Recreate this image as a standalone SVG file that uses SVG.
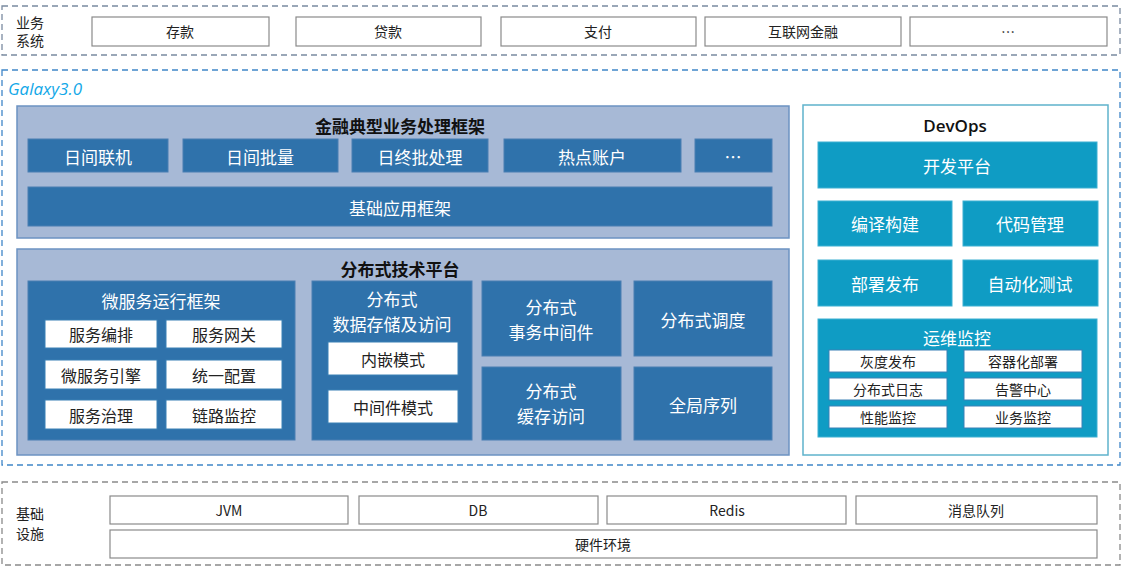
<svg xmlns="http://www.w3.org/2000/svg" width="1126" height="572" viewBox="0 0 1126 572">
<style>
text{font-family:"Microsoft YaHei","Noto Sans CJK SC",sans-serif;text-anchor:middle;dominant-baseline:central}
.dash{fill:none;stroke-width:1.3;stroke-dasharray:6 4}
.wb{fill:#fff;stroke:#8a8a8a;stroke-width:1.2}
.wt{font-size:14px;fill:#222}
.panel{fill:#a7b9d6;stroke:#6c93c2;stroke-width:1.5}
.db{fill:#2f72ab;stroke:#4b7fb2;stroke-width:1}
.dt{font-size:17px;fill:#fff}
.ttl{font-size:17px;font-weight:bold;fill:#111}
.tb{fill:#0f9cc4;stroke:#3db0d2;stroke-width:1}
.iw{fill:#fff;stroke:#3a80b5;stroke-width:1}
.it{font-size:16px;fill:#222}
.st{font-size:14px;fill:#222}
</style>
<g id="biz">
<rect class="dash" x="2" y="6" width="1118" height="49" stroke="#7a8aa0"/>
<text x="30" y="22" class="wt">业务</text><text x="30" y="40" class="wt">系统</text>
<rect class="wb" x="92" y="17" width="177" height="29"/><text class="wt" x="180" y="31">存款</text>
<rect class="wb" x="296" y="17" width="185" height="29"/><text class="wt" x="388" y="31">贷款</text>
<rect class="wb" x="501" y="17" width="195" height="29"/><text class="wt" x="598" y="31">支付</text>
<rect class="wb" x="705" y="17" width="196" height="29"/><text class="wt" x="803" y="31">互联网金融</text>
<rect class="wb" x="910" y="17" width="197" height="29"/><text class="wt" x="1008" y="31">…</text>
</g>
<g id="galaxy">
<rect class="dash" x="2" y="70" width="1118" height="395" stroke="#3f86c8"/>
<text x="8" y="88" style="font-size:17px;font-style:italic;fill:#12a8e8;text-anchor:start;font-family:'Open Sans','Noto Sans',sans-serif">Galaxy3.0</text>
</g>
<g id="fin">
<rect class="panel" x="17" y="106" width="772" height="132"/>
<text class="ttl" x="400" y="125">金融典型业务处理框架</text>
<rect class="db" x="28" y="139" width="140" height="33"/><text class="dt" x="98" y="156">日间联机</text>
<rect class="db" x="183" y="139" width="155" height="33"/><text class="dt" x="260" y="156">日间批量</text>
<rect class="db" x="352" y="139" width="136" height="33"/><text class="dt" x="420" y="156">日终批处理</text>
<rect class="db" x="504" y="139" width="177" height="33"/><text class="dt" x="592" y="156">热点账户</text>
<rect class="db" x="695" y="139" width="77" height="33"/><text class="dt" x="733" y="156">…</text>
<rect class="db" x="28" y="187" width="744" height="39"/><text class="dt" x="400" y="207">基础应用框架</text>
</g>
<g id="dist">
<rect class="panel" x="17" y="249" width="772" height="206"/>
<text class="ttl" x="400" y="268">分布式技术平台</text>
<rect class="db" x="28" y="281" width="267" height="159"/><text class="dt" x="161" y="300">微服务运行框架</text>
<rect class="iw" x="45" y="320" width="112" height="28"/><text class="it" x="101" y="334">服务编排</text>
<rect class="iw" x="166" y="320" width="116" height="28"/><text class="it" x="224" y="334">服务网关</text>
<rect class="iw" x="45" y="360" width="112" height="29"/><text class="it" x="101" y="375">微服务引擎</text>
<rect class="iw" x="166" y="360" width="116" height="29"/><text class="it" x="224" y="375">统一配置</text>
<rect class="iw" x="45" y="400" width="112" height="29"/><text class="it" x="101" y="415">服务治理</text>
<rect class="iw" x="166" y="400" width="116" height="29"/><text class="it" x="224" y="415">链路监控</text>
<rect class="db" x="312" y="281" width="160" height="159"/><text class="dt" x="392" y="298">分布式</text><text class="dt" x="392" y="323">数据存储及访问</text>
<rect class="iw" x="328" y="342" width="130" height="33"/><text class="it" x="393" y="359">内嵌模式</text>
<rect class="iw" x="328" y="390" width="130" height="33"/><text class="it" x="393" y="407">中间件模式</text>
<rect class="db" x="482" y="281" width="139" height="75"/><text class="dt" x="551" y="306">分布式</text><text class="dt" x="551" y="331">事务中间件</text>
<rect class="db" x="634" y="281" width="138" height="75"/><text class="dt" x="703" y="319">分布式调度</text>
<rect class="db" x="482" y="367" width="139" height="73"/><text class="dt" x="551" y="390">分布式</text><text class="dt" x="551" y="415">缓存访问</text>
<rect class="db" x="634" y="367" width="138" height="73"/><text class="dt" x="703" y="404">全局序列</text>
</g>
<g id="devops">
<rect x="803" y="105" width="305" height="350" fill="#fff" stroke="#5fb3cc" stroke-width="1.5"/>
<text class="ttl" x="955" y="125" style="font-weight:600;font-family:'Open Sans','Noto Sans',sans-serif">DevOps</text>
<rect class="tb" x="818" y="142" width="279" height="46"/><text class="dt" x="957" y="165">开发平台</text>
<rect class="tb" x="818" y="201" width="134" height="45"/><text class="dt" x="885" y="223">编译构建</text>
<rect class="tb" x="963" y="201" width="135" height="45"/><text class="dt" x="1030" y="223">代码管理</text>
<rect class="tb" x="818" y="260" width="134" height="46"/><text class="dt" x="885" y="283">部署发布</text>
<rect class="tb" x="963" y="260" width="135" height="46"/><text class="dt" x="1030" y="283">自动化测试</text>
<rect class="tb" x="818" y="319" width="279" height="118"/><text class="dt" x="957" y="337">运维监控</text>
<rect class="iw" x="829" y="350" width="118" height="22"/><text class="st" x="888" y="361">灰度发布</text>
<rect class="iw" x="964" y="350" width="118" height="22"/><text class="st" x="1023" y="361">容器化部署</text>
<rect class="iw" x="829" y="378" width="118" height="22"/><text class="st" x="888" y="389">分布式日志</text>
<rect class="iw" x="964" y="378" width="118" height="22"/><text class="st" x="1023" y="389">告警中心</text>
<rect class="iw" x="829" y="406" width="118" height="22"/><text class="st" x="888" y="417">性能监控</text>
<rect class="iw" x="964" y="406" width="118" height="22"/><text class="st" x="1023" y="417">业务监控</text>
</g>
<g id="infra">
<rect class="dash" x="2" y="482" width="1118" height="83" stroke="#8a8a8a"/>
<text x="30" y="513" class="wt">基础</text><text x="30" y="533" class="wt">设施</text>
<rect class="wb" x="110" y="496" width="238" height="28"/><text class="wt" x="229" y="510">JVM</text>
<rect class="wb" x="359" y="496" width="239" height="28"/><text class="wt" x="478" y="510">DB</text>
<rect class="wb" x="607" y="496" width="239" height="28"/><text class="wt" x="727" y="510">Redis</text>
<rect class="wb" x="856" y="496" width="241" height="28"/><text class="wt" x="976" y="510">消息队列</text>
<rect class="wb" x="110" y="530" width="987" height="28"/><text class="wt" x="603" y="544">硬件环境</text>
</g>
<g id="connectors"></g>
</svg>
